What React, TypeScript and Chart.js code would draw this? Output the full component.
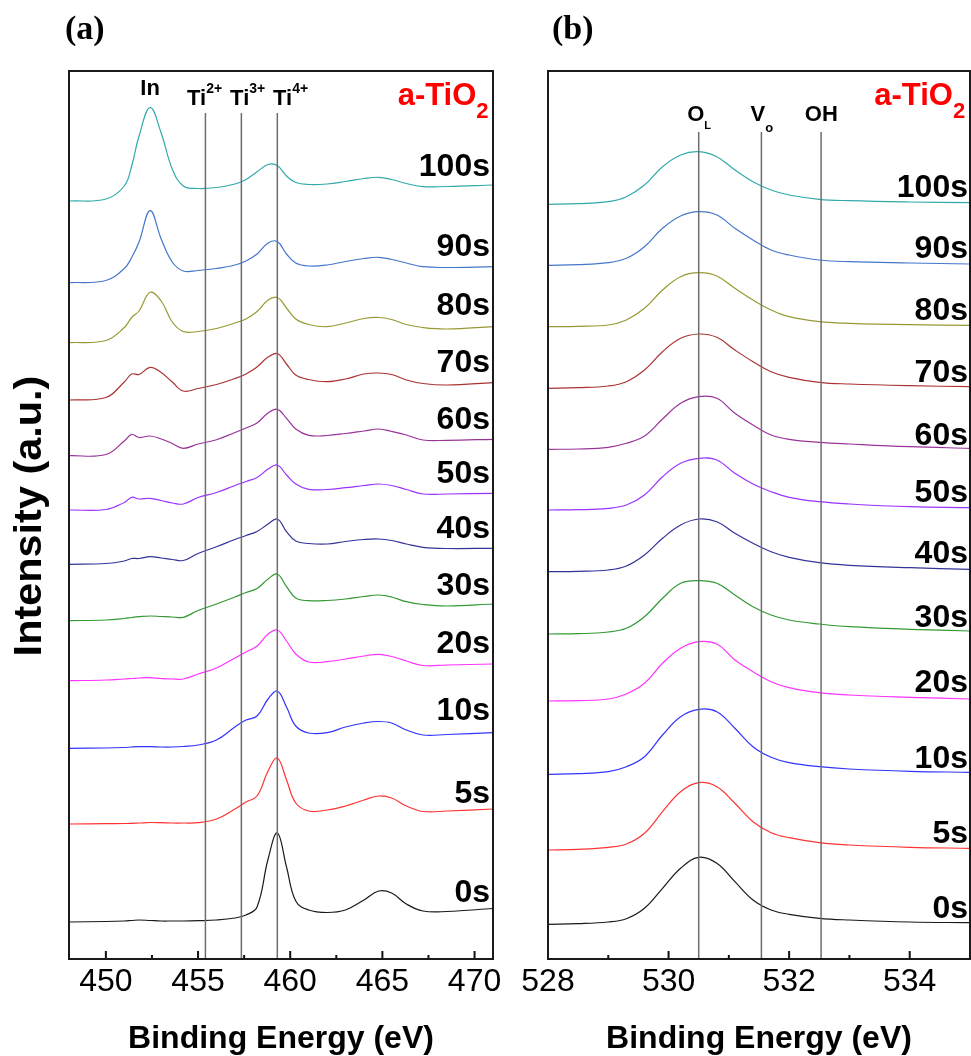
import { useEffect, useRef } from "react";
import { Chart, registerables } from "chart.js";

Chart.register(...registerables);

const SANS = "'Liberation Sans', Arial, sans-serif";
const SERIF = "'Liberation Serif', 'Times New Roman', serif";

// ---- Ti 2p region: binding energy grid (eV) and spectra per sputter time ----
const tiEnergy = [448, 450, 451, 451.4, 451.8, 452.4, 453, 453.6, 454.2, 455, 456, 457, 457.6, 458.2, 458.8, 459.3, 459.8, 460.3, 461, 462, 463, 464, 464.8, 465.5, 466.3, 467.2, 468.5, 471];
const ti0s = [37, 37.5, 38, 38.5, 39, 38.5, 38, 38, 38, 38.3, 39, 41, 44, 52, 100, 126, 92, 58, 49, 46.5, 49, 59, 68, 66, 55, 48, 47.5, 50.5];
const ti5s = [135, 135.3, 135.5, 135.7, 136, 136.5, 136.3, 136, 136, 136.3, 140, 150, 157, 163, 188, 201, 179, 156, 148, 149, 153, 159, 163, 161, 153, 147.5, 148, 150];
const ti10s = [210.7, 211, 211.5, 212, 212.3, 212.3, 212, 212, 212.5, 214, 219, 232, 239, 243, 260, 268, 252, 233, 226, 226.3, 232, 236, 237.5, 236, 229, 224, 224.5, 226.3];
const ti20s = [278.3, 279, 280, 280.5, 281, 281.3, 280.5, 280, 280, 285, 291, 301, 307, 313, 325, 329, 318, 305, 297, 297.3, 300, 303, 304.7, 302.5, 298, 293.5, 294, 295];
const ti30s = [338.3, 339, 340.5, 341.5, 342.3, 343, 342.5, 342, 341.7, 348.5, 355, 362, 366.5, 370.5, 380, 385, 372.3, 361, 358.3, 358.5, 360, 362.5, 364, 362, 357.3, 354.5, 353, 355];
const ti40s = [394.7, 395.5, 398, 400.5, 400.5, 402.3, 401, 399.5, 398.5, 405.5, 412.3, 419.5, 423.5, 427.5, 435, 440, 427.3, 418, 415.5, 415, 417.5, 419.5, 420, 418.5, 415, 411.7, 410.5, 410.7];
const ti50s = [449, 449.5, 456.5, 461.7, 460, 460.7, 458.5, 456, 455, 461.5, 466.5, 473.5, 477.5, 481.5, 490, 494, 484, 475, 469.7, 469.5, 471.3, 473.5, 475, 473.5, 469.5, 465, 465, 465.7];
const ti60s = [503.3, 504.5, 518, 524.7, 521.5, 523, 520, 515.5, 510.7, 515, 519.3, 526.5, 531, 536, 546, 549.7, 540.7, 530, 523.7, 523.5, 525.5, 528, 530, 527.5, 524, 519, 518.7, 519.7];
const ti70s = [559, 561.5, 577, 585, 584.5, 591.7, 586.5, 577, 568, 570.5, 574.5, 580.5, 585, 592, 602, 605.5, 595, 584, 579.5, 577.3, 580, 585, 586, 584.5, 579, 575.5, 574, 576.3];
const ti80s = [616.3, 618.5, 631.5, 641.5, 648, 666.7, 658, 637, 627.5, 627.5, 630.5, 636, 640, 647.5, 659, 661.5, 651, 640, 634.5, 632.3, 636, 640.5, 641.5, 639.5, 634.5, 631.5, 630, 632.3];
const ti90s = [676.3, 678.5, 690.5, 701.5, 717, 748.3, 720, 697, 688, 688.5, 690.5, 694, 698, 705, 716, 717.5, 705, 696, 693, 694, 697.5, 700.5, 701.7, 699.5, 696, 692.3, 691.5, 692.3];
const ti100s = [758, 760, 773, 793, 823, 851.5, 826, 790, 773, 770.5, 771.5, 775, 779.5, 787.3, 794.5, 793.5, 783, 776.5, 774.5, 775, 777.5, 780.5, 781.7, 779.5, 775.5, 772.3, 772.5, 774];

// ---- O 1s region ----
const oEnergy = [528, 528.5, 529, 529.3, 529.6, 529.9, 530.2, 530.5, 530.8, 531.1, 531.4, 531.7, 532, 532.5, 533, 534, 535];
const o0s = [34.7, 35.3, 37, 40.3, 50.7, 70.7, 90.7, 101.7, 95.7, 77.3, 59, 49, 44.7, 40.7, 39, 37, 36.3];
const o5s = [109, 109.7, 111.7, 115, 125.7, 147.3, 167.3, 176.3, 172.3, 155.7, 137.3, 126.3, 121.3, 116.3, 114, 111.7, 110.7];
const o10s = [184.7, 185.3, 187.3, 192.3, 202.3, 224, 242.3, 249.7, 247.3, 230.7, 212.3, 201.7, 196.3, 192.3, 190, 187.7, 186.7];
const o20s = [258, 258.3, 260, 265, 275.7, 295.7, 310.7, 317.3, 315, 299, 287.3, 277.3, 271.3, 266.3, 264, 261.7, 260];
const o30s = [325, 325.3, 327, 330.7, 342.3, 360.7, 375.7, 378.3, 375.7, 364, 352.3, 344, 339, 335, 332.3, 329.7, 328];
const o40s = [387.3, 387.7, 389, 393, 404, 420.7, 434, 440, 437.3, 425.7, 415.7, 407.3, 401.7, 396.3, 393.7, 391.3, 389.7];
const o50s = [449, 449.3, 450.7, 454, 464, 482.3, 495.7, 500.7, 499, 485.7, 475, 467.3, 461.7, 457.3, 455, 452.3, 451.3];
const o60s = [509.7, 510, 511.7, 515.7, 523, 540, 555.7, 562.3, 560.7, 545.7, 534, 524, 519.7, 516.7, 515, 512.3, 510.7];
const o70s = [570.7, 571.3, 573, 577.3, 589, 607.3, 620.7, 625, 621.7, 609, 597.3, 587.3, 581.7, 576.7, 575, 573.3, 572.3];
const o80s = [632.3, 632.7, 634, 639, 650.7, 669, 682.3, 686.3, 683, 670.7, 659, 649, 642.3, 637.3, 635.7, 634.3, 633.7];
const o90s = [693.7, 694.3, 696.3, 700.7, 712.3, 730.7, 743, 747.3, 744, 730.7, 719, 709, 704, 699, 697.3, 696, 695];
const o100s = [754.7, 755.3, 757.3, 762.3, 774, 792.3, 804, 807.3, 802.3, 789, 777.3, 769, 764, 759.7, 758.3, 757, 756.3];

const timeLabels = ["0s", "5s", "10s", "20s", "30s", "40s", "50s", "60s", "70s", "80s", "90s", "100s"];
const seriesColors = ["#1a1a1a", "#ff3333", "#3333ff", "#ff33ff", "#339933", "#333399", "#9933ff", "#993399", "#aa3333", "#999933", "#4477cc", "#33aaaa"];

// vertical level of each time label (intensity units, label baseline)
const tiLabelLevels = [57, 156, 239, 306, 364, 421, 476, 530, 587, 644, 703, 783];
const oLabelLevels = [41, 116, 191, 267, 332, 396, 457, 514, 577, 639, 701, 762];

// reference binding energies
const tiRefLines = [455.4, 457.35, 459.3];
const oRefLines = [530.5, 531.54, 532.53];

type Label = {
  text: string; x: number; y: number; size: number; align?: "left" | "center" | "right";
  script?: string; scriptSize?: number; scriptY?: number; color?: string;
};

type PanelSpec = {
  left: number; width: number; padLeft: number; padRight: number;
  energy: number[]; spectra: number[][]; xMin: number; xMax: number; step: number; minor: number[];
  refLines: number[]; refTop: number; levels: number[]; labelRight: number;
  peaks: Label[]; tag: string; tagX: number; yTitle: boolean;
};

const panelA: PanelSpec = {
  left: 0, width: 510, padLeft: 69, padRight: 17,
  energy: tiEnergy,
  spectra: [ti0s, ti5s, ti10s, ti20s, ti30s, ti40s, ti50s, ti60s, ti70s, ti80s, ti90s, ti100s],
  xMin: 448, xMax: 471, step: 5, minor: [452.5, 457.5, 462.5, 467.5],
  refLines: tiRefLines, refTop: 846, levels: tiLabelLevels, labelRight: 490,
  peaks: [
    { text: "In", x: 452.4, y: 864, size: 22, align: "center" },
    { text: "Ti", x: 454.4, y: 854, size: 22, script: "2+", scriptSize: 14, scriptY: 866 },
    { text: "Ti", x: 456.74, y: 854, size: 22, script: "3+", scriptSize: 14, scriptY: 866 },
    { text: "Ti", x: 459.07, y: 854, size: 22, script: "4+", scriptSize: 14, scriptY: 866 },
    { text: "a-TiO", x: 470.76, y: 854, size: 31, align: "right", script: "2", scriptSize: 22, scriptY: 841, color: "#ff0000" },
  ],
  tag: "(a)", tagX: 65, yTitle: true,
};

const panelB: PanelSpec = {
  left: 505, width: 466, padLeft: 43, padRight: 1,
  energy: oEnergy,
  spectra: [o0s, o5s, o10s, o20s, o30s, o40s, o50s, o60s, o70s, o80s, o90s, o100s],
  xMin: 528, xMax: 535, step: 2, minor: [529, 531, 533],
  refLines: oRefLines, refTop: 827, levels: oLabelLevels, labelRight: 968,
  peaks: [
    { text: "O", x: 530.31, y: 838.3, size: 22, script: "L", scriptSize: 11, scriptY: 829.7 },
    { text: "V", x: 531.36, y: 838.3, size: 22, script: "o", scriptSize: 13, scriptY: 827.3 },
    { text: "OH", x: 532.26, y: 838.3, size: 22 },
    { text: "a-TiO", x: 534.92, y: 854, size: 31, align: "right", script: "2", scriptSize: 22, scriptY: 841, color: "#ff0000" },
  ],
  tag: "(b)", tagX: 47, yTitle: false,
};

function drawLabel(ctx: CanvasRenderingContext2D, xs: any, ys: any, l: Label) {
  const mainFont = `bold ${l.size}px ${SANS}`;
  ctx.font = mainFont;
  const w1 = ctx.measureText(l.text).width;
  let w2 = 0;
  if (l.script) {
    ctx.font = `bold ${l.scriptSize}px ${SANS}`;
    w2 = ctx.measureText(l.script).width;
  }
  let x0 = xs.getPixelForValue(l.x);
  if (l.align === "center") x0 -= (w1 + w2) / 2;
  else if (l.align === "right") x0 -= w1 + w2;
  ctx.fillStyle = l.color || "#000";
  ctx.textAlign = "left";
  ctx.textBaseline = "alphabetic";
  ctx.font = mainFont;
  ctx.fillText(l.text, x0, ys.getPixelForValue(l.y));
  if (l.script) {
    ctx.font = `bold ${l.scriptSize}px ${SANS}`;
    ctx.fillText(l.script, x0 + w1, ys.getPixelForValue(l.scriptY));
  }
}

function decorPlugin(spec: PanelSpec) {
  return {
    id: "panelDecor",
    afterDraw(chart: any) {
      const ctx: CanvasRenderingContext2D = chart.ctx;
      const { left, right, top, bottom } = chart.chartArea;
      const xs = chart.scales.x;
      const ys = chart.scales.y;
      ctx.save();
      // ticks pointing into the plot
      ctx.strokeStyle = "#111";
      ctx.lineWidth = 2;
      ctx.beginPath();
      xs.ticks.forEach((t: any) => {
        const px = xs.getPixelForValue(t.value);
        ctx.moveTo(px, bottom);
        ctx.lineTo(px, bottom - 8);
      });
      spec.minor.forEach((v) => {
        const px = xs.getPixelForValue(v);
        ctx.moveTo(px, bottom);
        ctx.lineTo(px, bottom - 4);
      });
      ctx.stroke();
      // frame
      ctx.strokeStyle = "#1a1a1a";
      ctx.lineWidth = 2;
      ctx.strokeRect(left, top, right - left, bottom - top);

      // time labels
      ctx.fillStyle = "#000";
      ctx.font = `bold 32px ${SANS}`;
      ctx.textAlign = "right";
      ctx.textBaseline = "alphabetic";
      timeLabels.forEach((t, i) => {
        ctx.fillText(t, spec.labelRight - spec.left, ys.getPixelForValue(spec.levels[i]));
      });

      spec.peaks.forEach((p) => drawLabel(ctx, xs, ys, p));

      // panel tag
      ctx.fillStyle = "#000";
      ctx.font = `bold 34px ${SERIF}`;
      ctx.textAlign = "left";
      ctx.fillText(spec.tag, spec.tagX, 39);

      // axis titles
      ctx.font = `bold 32px ${SANS}`;
      ctx.textAlign = "center";
      ctx.fillText("Binding Energy (eV)", (left + right) / 2, 1048);
      if (spec.yTitle) {
        ctx.translate(31, 516);
        ctx.rotate(-Math.PI / 2);
        ctx.scale(1.09, 1);
        ctx.textBaseline = "middle";
        ctx.font = `bold 38px ${SANS}`;
        ctx.fillText("Intensity (a.u.)", 0, 0);
      }
      ctx.restore();
    },
  };
}

function buildConfig(spec: PanelSpec): any {
  const curves = spec.spectra.map((s, i) => ({
    data: spec.energy.map((e, j) => ({ x: e, y: s[j] })),
    borderColor: seriesColors[i],
    borderWidth: 1.2,
    pointRadius: 0,
    tension: 0.4,
    fill: false,
  }));
  const refs = spec.refLines.map((e) => ({
    data: [{ x: e, y: 0 }, { x: e, y: spec.refTop }],
    borderColor: "#6e6e6e",
    borderWidth: 1.5,
    pointRadius: 0,
    fill: false,
  }));
  return {
    type: "line",
    data: { datasets: [...refs, ...curves] },
    options: {
      animation: false,
      responsive: false,
      devicePixelRatio: 1,
      layout: { padding: { left: spec.padLeft, right: spec.padRight, top: 71, bottom: 0 } },
      plugins: { legend: { display: false }, tooltip: { enabled: false }, title: { display: false } },
      scales: {
        x: {
          type: "linear",
          min: spec.xMin,
          max: spec.xMax,
          afterFit: (s: any) => { s.height = 97; },
          grid: { display: false, drawTicks: false },
          border: { display: false },
          ticks: {
            stepSize: spec.step,
            includeBounds: false,
            autoSkip: false,
            maxRotation: 0,
            padding: 4,
            color: "#000",
            font: { family: SANS, size: 32 },
          },
        },
        y: { display: false, min: 0, max: 888 },
      },
    },
    plugins: [decorPlugin(spec)],
  };
}

function Panel({ spec }: { spec: PanelSpec }) {
  const ref = useRef<HTMLCanvasElement>(null);
  useEffect(() => {
    const chart = new Chart(ref.current as HTMLCanvasElement, buildConfig(spec));
    return () => chart.destroy();
  }, [spec]);
  return (
    <canvas
      ref={ref}
      width={spec.width}
      height={1056}
      style={{ position: "absolute", left: spec.left, top: 0, width: spec.width, height: 1056 }}
    />
  );
}

export default function App() {
  return (
    <div style={{ position: "absolute", left: 0, top: 0, width: 971, height: 1056, background: "#fff", overflow: "hidden" }}>
      <Panel spec={panelA} />
      <Panel spec={panelB} />
    </div>
  );
}
